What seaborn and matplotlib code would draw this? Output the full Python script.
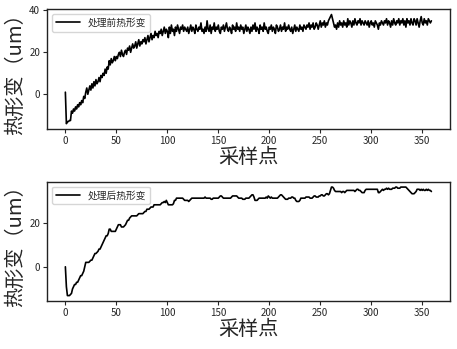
import numpy as np
import pandas as pd
import seaborn as sns
import matplotlib
matplotlib.use("Agg")
import matplotlib.pyplot as plt
from matplotlib.ticker import MultipleLocator

before_label = "处理前热形变"
after_label = "处理后热形变"
x_label = "采样点"
y_label = "热形变（um）"

before = [
    1, -14, -13, -13, -12.5, -12.5, -8, -9, -7, -8, -6, -7, -5, -6, -4, -5, -3, -4, -1, -2,
    1, 3, 0, 2, 4, 2, 5, 3, 6, 4, 7, 5, 6, 8, 6, 9, 8, 10, 9, 12,
    10, 13, 12, 16, 14, 17, 15, 16, 18, 16, 18, 17, 19, 20, 18, 21, 19, 18, 20, 21,
    19, 22, 21, 23, 20, 22, 24, 22, 23, 25, 22, 24, 26, 23, 25, 24, 26, 25, 27, 24,
    26, 28, 25, 27, 29, 26, 28, 27, 30, 28, 29, 27, 30, 29, 31, 28, 30, 32, 29, 31,
    30, 27, 32, 29, 33, 30, 31, 28, 32, 30, 33, 31, 29, 32, 31, 33, 30, 32, 31, 30,
    32, 29, 31, 33, 30, 32, 31, 29, 33, 31, 30, 32, 31, 34, 30, 31, 29, 32, 30, 35,
    31, 30, 33, 29, 32, 31, 34, 30, 32, 31, 33, 30, 29, 32, 31, 33, 30, 32, 34, 31,
    30, 32, 31, 29, 33, 31, 32, 30, 34, 31, 32, 30, 33, 31, 32, 29, 31, 33, 30, 32,
    31, 29, 32, 30, 33, 31, 34, 30, 32, 31, 29, 33, 31, 32, 30, 34, 31, 32, 30, 29,
    32, 31, 33, 30, 32, 31, 29, 33, 32, 30, 31, 33, 30, 32, 31, 34, 30, 32, 31, 33,
    31, 30, 32, 29, 31, 33, 30, 32, 31, 30, 33, 31, 32, 30, 33, 32, 31, 33, 32, 34,
    31, 33, 32, 34, 31, 32, 34, 33, 31, 33, 35, 32, 34, 33, 35, 32, 34, 33, 35, 36,
    37, 38, 36, 34, 32, 33, 31, 34, 32, 35, 33, 34, 32, 35, 33, 34, 32, 36, 33, 35,
    34, 32, 35, 33, 36, 34, 33, 35, 34, 36, 33, 35, 34, 33, 35, 34, 33, 35, 32, 34,
    35, 33, 34, 32, 35, 34, 33, 31, 34, 33, 35, 34, 33, 35, 34, 36, 33, 35, 34, 32,
    35, 33, 36, 34, 33, 35, 34, 36, 33, 35, 34, 36, 33, 35, 32, 36, 34, 35, 33, 36,
    34, 33, 36, 35, 33, 36, 34, 32, 35, 37, 34, 33, 36, 34, 35, 33, 36, 35, 34, 35,
]

after = [
    0, -9, -13, -13, -13, -12.5, -12, -10, -9, -8, -8, -7, -7, -6, -5, -4, -4, -3, -2, 0,
    2, 2, 2, 2, 2.5, 3, 3, 4, 5, 6, 6, 6.5, 7, 8, 8, 9, 10, 11, 12, 13,
    14, 14, 15, 17, 17, 16, 16, 16, 16, 16, 17, 18, 19, 19, 19, 18, 18, 18, 18.5, 19,
    20, 21, 21, 22, 22.5, 23, 23, 23, 23, 23, 23, 23.5, 24, 24, 24, 24, 24, 24.5, 25, 25,
    26, 26, 26, 26.5, 27, 27, 27, 28, 28, 28, 28, 28, 28, 28, 28.5, 29, 29, 29.5, 29, 30,
    29, 28, 28, 28, 28, 28, 28.5, 30, 30, 31, 31, 31, 31, 31, 31, 31, 30.5, 30, 30, 30,
    30, 29.5, 30, 30.5, 31, 31, 31, 31, 31, 31, 31, 31, 31, 31, 31, 31, 31, 31.5, 31, 31,
    31, 31, 31, 30.5, 30.5, 31, 31, 31, 31, 31, 31, 31.5, 32, 32, 31.5, 31, 31, 31, 31, 31,
    31, 31, 31, 31.5, 32, 32, 32, 32, 32, 31.5, 31, 31, 31, 31, 30.5, 30.5, 30.5, 31, 31, 31,
    31, 31.5, 32, 32.5, 32.5, 31.5, 30, 30, 30, 30.5, 31, 31, 31, 31, 31, 31, 31, 31.5, 31, 32,
    31.5, 31, 31.5, 31, 31, 31, 31, 31, 31, 31.5, 32, 32.5, 32.5, 32, 31.5, 31, 30.5, 30.5, 30.5, 31,
    31, 31, 31.5, 31.5, 31, 31, 30, 29.5, 29.5, 29.5, 30, 31, 31, 31, 31, 31, 31.5, 31.5, 31.5, 31.5,
    31, 31, 31, 31.5, 32, 32, 31.5, 31.5, 31.5, 32, 32, 32.5, 32.5, 32, 32, 32.5, 33, 33, 32.5, 33,
    34.5, 36, 36, 35.5, 34.5, 34, 34, 34, 34, 34, 34, 33.5, 34, 34, 33.5, 34, 34.5, 34.5, 34.5, 34.5,
    34.5, 34.5, 34.5, 34.5, 34, 34.5, 35, 35, 34.5, 34.5, 34, 33.5, 33.5, 33.5, 34.5, 35, 35, 35, 35, 35,
    35, 35, 35, 35, 35, 35, 35, 33.5, 33.5, 34, 34.5, 35, 34.5, 35, 35, 35.5, 35, 35.5, 35, 35,
    35, 35.5, 35.5, 35.5, 36, 36, 35.5, 35.5, 35.5, 36, 36, 36, 36, 36, 36, 35.5, 35, 34.5, 34, 33.5,
    33, 33, 33, 33.5, 34, 35, 35, 35, 34.5, 35, 34.5, 35, 34.5, 34.5, 35, 34.5, 35, 34.5, 34.5, 34,
]

sns.set_style("ticks")
plt.rcParams['font.family'] = ['Noto Sans CJK SC', 'DejaVu Sans']
plt.rcParams['axes.unicode_minus'] = False

fig = plt.figure(figsize=(4.57, 3.49), dpi=100)
ax1 = fig.add_axes([0.103, 0.630, 0.881, 0.344])
ax2 = fig.add_axes([0.103, 0.1375, 0.881, 0.342])

for ax, vals, lab in [(ax1, before, before_label), (ax2, after, after_label)]:
    df = pd.DataFrame({"x": np.arange(len(vals)), "y": vals, "s": lab})
    sns.lineplot(data=df, x="x", y="y", hue="s", palette=["black"], ax=ax,
                 linewidth=1.2)
    ax.set_xlabel(x_label, fontsize=14.5, labelpad=1)
    ax.set_ylabel(y_label, fontsize=14.5, labelpad=2)
    ax.xaxis.set_major_locator(MultipleLocator(50))
    ax.yaxis.set_major_locator(MultipleLocator(20))
    ax.tick_params(labelsize=7, length=3, width=0.8, pad=2)
    for sp in ax.spines.values():
        sp.set_color("#222222")
        sp.set_linewidth(1.0)
    leg = ax.legend(loc="upper left", fontsize=7, frameon=True, handlelength=2.5)
    leg.set_title(None)

fig.savefig("out.png", dpi=100)
